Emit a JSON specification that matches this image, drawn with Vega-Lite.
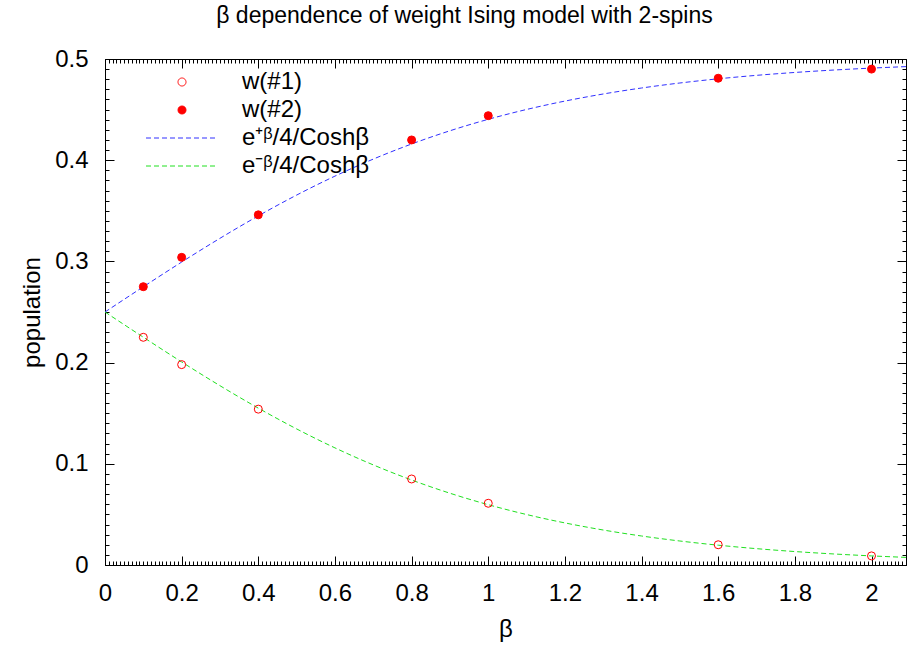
{
  "$schema": "https://vega.github.io/schema/vega-lite/v6.json",
  "width": 801,
  "height": 506,
  "autosize": "none",
  "padding": {"left": 105, "top": 59, "right": 4, "bottom": 81},
  "background": "white",
  "config": {"font": "Liberation Sans", "view": {"stroke": null}},
  "title": {"text": "β dependence of weight Ising model with 2-spins", "fontSize": 23, "fontWeight": "normal", "anchor": "middle", "dx": -41, "baseline": "alphabetic", "offset": 1, "color": "black", "font": "Liberation Sans"},
  "datasets": {
    "curves": [
      {"series": "e⁺ᵝ/4/Coshβ", "beta": 0.0, "value": 0.25},
      {"series": "e⁺ᵝ/4/Coshβ", "beta": 0.1, "value": 0.27491},
      {"series": "e⁺ᵝ/4/Coshβ", "beta": 0.2, "value": 0.29934},
      {"series": "e⁺ᵝ/4/Coshβ", "beta": 0.3, "value": 0.32282},
      {"series": "e⁺ᵝ/4/Coshβ", "beta": 0.4, "value": 0.34499},
      {"series": "e⁺ᵝ/4/Coshβ", "beta": 0.5, "value": 0.36553},
      {"series": "e⁺ᵝ/4/Coshβ", "beta": 0.6, "value": 0.38426},
      {"series": "e⁺ᵝ/4/Coshβ", "beta": 0.7, "value": 0.40109},
      {"series": "e⁺ᵝ/4/Coshβ", "beta": 0.8, "value": 0.41601},
      {"series": "e⁺ᵝ/4/Coshβ", "beta": 0.9, "value": 0.42907},
      {"series": "e⁺ᵝ/4/Coshβ", "beta": 1.0, "value": 0.4404},
      {"series": "e⁺ᵝ/4/Coshβ", "beta": 1.1, "value": 0.45013},
      {"series": "e⁺ᵝ/4/Coshβ", "beta": 1.2, "value": 0.45841},
      {"series": "e⁺ᵝ/4/Coshβ", "beta": 1.3, "value": 0.46543},
      {"series": "e⁺ᵝ/4/Coshβ", "beta": 1.4, "value": 0.47134},
      {"series": "e⁺ᵝ/4/Coshβ", "beta": 1.5, "value": 0.47629},
      {"series": "e⁺ᵝ/4/Coshβ", "beta": 1.6, "value": 0.48042},
      {"series": "e⁺ᵝ/4/Coshβ", "beta": 1.7, "value": 0.48385},
      {"series": "e⁺ᵝ/4/Coshβ", "beta": 1.8, "value": 0.4867},
      {"series": "e⁺ᵝ/4/Coshβ", "beta": 1.9, "value": 0.48906},
      {"series": "e⁺ᵝ/4/Coshβ", "beta": 2.0, "value": 0.491},
      {"series": "e⁺ᵝ/4/Coshβ", "beta": 2.09, "value": 0.49247},
      {"series": "e⁻ᵝ/4/Coshβ", "beta": 0.0, "value": 0.25},
      {"series": "e⁻ᵝ/4/Coshβ", "beta": 0.1, "value": 0.22509},
      {"series": "e⁻ᵝ/4/Coshβ", "beta": 0.2, "value": 0.20066},
      {"series": "e⁻ᵝ/4/Coshβ", "beta": 0.3, "value": 0.17718},
      {"series": "e⁻ᵝ/4/Coshβ", "beta": 0.4, "value": 0.15501},
      {"series": "e⁻ᵝ/4/Coshβ", "beta": 0.5, "value": 0.13447},
      {"series": "e⁻ᵝ/4/Coshβ", "beta": 0.6, "value": 0.11574},
      {"series": "e⁻ᵝ/4/Coshβ", "beta": 0.7, "value": 0.09891},
      {"series": "e⁻ᵝ/4/Coshβ", "beta": 0.8, "value": 0.08399},
      {"series": "e⁻ᵝ/4/Coshβ", "beta": 0.9, "value": 0.07093},
      {"series": "e⁻ᵝ/4/Coshβ", "beta": 1.0, "value": 0.0596},
      {"series": "e⁻ᵝ/4/Coshβ", "beta": 1.1, "value": 0.04987},
      {"series": "e⁻ᵝ/4/Coshβ", "beta": 1.2, "value": 0.04159},
      {"series": "e⁻ᵝ/4/Coshβ", "beta": 1.3, "value": 0.03457},
      {"series": "e⁻ᵝ/4/Coshβ", "beta": 1.4, "value": 0.02866},
      {"series": "e⁻ᵝ/4/Coshβ", "beta": 1.5, "value": 0.02371},
      {"series": "e⁻ᵝ/4/Coshβ", "beta": 1.6, "value": 0.01958},
      {"series": "e⁻ᵝ/4/Coshβ", "beta": 1.7, "value": 0.01615},
      {"series": "e⁻ᵝ/4/Coshβ", "beta": 1.8, "value": 0.0133},
      {"series": "e⁻ᵝ/4/Coshβ", "beta": 1.9, "value": 0.01094},
      {"series": "e⁻ᵝ/4/Coshβ", "beta": 2.0, "value": 0.009},
      {"series": "e⁻ᵝ/4/Coshβ", "beta": 2.09, "value": 0.00753}
    ],
    "points": [
      {"series": "w(#1)", "beta": 0.1, "value": 0.225},
      {"series": "w(#1)", "beta": 0.2, "value": 0.198},
      {"series": "w(#1)", "beta": 0.4, "value": 0.154},
      {"series": "w(#1)", "beta": 0.8, "value": 0.085},
      {"series": "w(#1)", "beta": 1.0, "value": 0.061},
      {"series": "w(#1)", "beta": 1.6, "value": 0.02},
      {"series": "w(#1)", "beta": 2.0, "value": 0.009},
      {"series": "w(#2)", "beta": 0.1, "value": 0.275},
      {"series": "w(#2)", "beta": 0.2, "value": 0.304},
      {"series": "w(#2)", "beta": 0.4, "value": 0.346},
      {"series": "w(#2)", "beta": 0.8, "value": 0.42},
      {"series": "w(#2)", "beta": 1.0, "value": 0.444},
      {"series": "w(#2)", "beta": 1.6, "value": 0.481},
      {"series": "w(#2)", "beta": 2.0, "value": 0.49}
    ]
  },
  "resolve": {"axis": {"x": "independent", "y": "independent"}},
  "layer": [
    {
      "data": {"name": "points"},
      "mark": {"type": "point", "opacity": 0},
      "encoding": {
        "x": {
          "field": "beta", "type": "quantitative",
          "scale": {"domain": [0, 2.09], "nice": false, "zero": false},
          "axis": {"orient": "bottom", "tickCount": 210, "tickSize": -4, "labels": false, "domain": false, "grid": false, "title": null, "tickColor": "black", "tickWidth": 1}
        },
        "y": {
          "field": "value", "type": "quantitative",
          "scale": {"domain": [0, 0.5], "nice": false},
          "axis": {"orient": "left", "tickCount": 50, "tickSize": -4, "labels": false, "domain": false, "grid": false, "title": null, "tickColor": "black", "tickWidth": 1}
        }
      }
    },
    {
      "data": {"name": "points"},
      "mark": {"type": "point", "opacity": 0},
      "encoding": {
        "x": {
          "field": "beta", "type": "quantitative",
          "axis": {"orient": "top", "tickCount": 210, "tickSize": -4, "labels": false, "domain": false, "grid": false, "title": null, "tickColor": "black", "tickWidth": 1}
        },
        "y": {
          "field": "value", "type": "quantitative",
          "axis": {"orient": "right", "tickCount": 50, "tickSize": -4, "labels": false, "domain": false, "grid": false, "title": null, "tickColor": "black", "tickWidth": 1}
        }
      }
    },
    {
      "data": {"name": "curves"},
      "mark": {"type": "line", "strokeDash": [5, 3], "strokeWidth": 1, "interpolate": "monotone"},
      "encoding": {
        "x": {
          "field": "beta", "type": "quantitative",
          "axis": {
            "orient": "bottom", "values": [0, 0.2, 0.4, 0.6, 0.8, 1, 1.2, 1.4, 1.6, 1.8, 2], "format": "~g", "grid": false,
            "tickSize": -9, "labelOverlap": false, "labelFlush": false, "labelBound": false, "labelPadding": 25,
            "labelFontSize": 24, "labelColor": "black", "labelFont": "Liberation Sans",
            "tickColor": "black", "tickWidth": 1, "domainColor": "black", "domainWidth": 1,
            "title": "β", "titleFontSize": 24, "titleFontWeight": "normal", "titleColor": "black", "titleFont": "Liberation Sans", "titlePadding": 12
          }
        },
        "y": {
          "field": "value", "type": "quantitative",
          "axis": {
            "orient": "left", "values": [0, 0.1, 0.2, 0.3, 0.4, 0.5], "format": "~g", "grid": false,
            "tickSize": -9, "labelOverlap": false, "labelFlush": false, "labelBound": false, "labelPadding": 26,
            "labelFontSize": 24, "labelColor": "black", "labelFont": "Liberation Sans",
            "tickColor": "black", "tickWidth": 1, "domainColor": "black", "domainWidth": 1,
            "title": "population", "titleFontSize": 24, "titleFontWeight": "normal", "titleColor": "black", "titleFont": "Liberation Sans", "titlePadding": 10
          }
        },
        "color": {
          "field": "series", "type": "nominal",
          "scale": {"domain": ["w(#1)", "w(#2)", "e⁺ᵝ/4/Coshβ", "e⁻ᵝ/4/Coshβ"], "range": ["#ff0000", "#ff0000", "#3030ff", "#20e020"]},
          "legend": {
            "orient": "none", "legendX": 65, "legendY": 11, "title": null, "padding": 0,
            "labelFontSize": 24, "labelFont": "Liberation Sans", "labelColor": "black",
            "labelOffset": 48, "rowPadding": 4, "symbolSize": 64, "symbolStrokeWidth": 1,
            "encode": {
              "symbols": {
                "update": {
                  "shape": {"signal": "(datum.value==='w(#1)'||datum.value==='w(#2)') ? 'circle' : 'M -9 0 L 9 0'"},
                  "fill": {"signal": "datum.value==='w(#2)' ? '#ff0000' : 'transparent'"},
                  "strokeDash": {"signal": "(datum.value==='w(#1)'||datum.value==='w(#2)') ? [1,0] : [5,3]"}
                }
              }
            }
          }
        }
      }
    },
    {
      "data": {"name": "points"},
      "mark": {"type": "point", "shape": "circle", "size": 64, "strokeWidth": 1, "filled": false, "opacity": 1},
      "encoding": {
        "x": {
          "field": "beta", "type": "quantitative",
          "axis": {"orient": "top", "values": [0, 0.2, 0.4, 0.6, 0.8, 1, 1.2, 1.4, 1.6, 1.8, 2], "grid": false, "labels": false, "title": null, "tickSize": -9, "tickColor": "black", "tickWidth": 1, "domainColor": "black", "domainWidth": 1}
        },
        "y": {
          "field": "value", "type": "quantitative",
          "axis": {"orient": "right", "values": [0, 0.1, 0.2, 0.3, 0.4, 0.5], "grid": false, "labels": false, "title": null, "tickSize": -9, "tickColor": "black", "tickWidth": 1, "domainColor": "black", "domainWidth": 1}
        },
        "color": {"field": "series", "type": "nominal"},
        "fill": {"condition": {"test": "datum.series==='w(#2)'", "value": "#ff0000"}, "value": "transparent"}
      }
    }
  ]
}
